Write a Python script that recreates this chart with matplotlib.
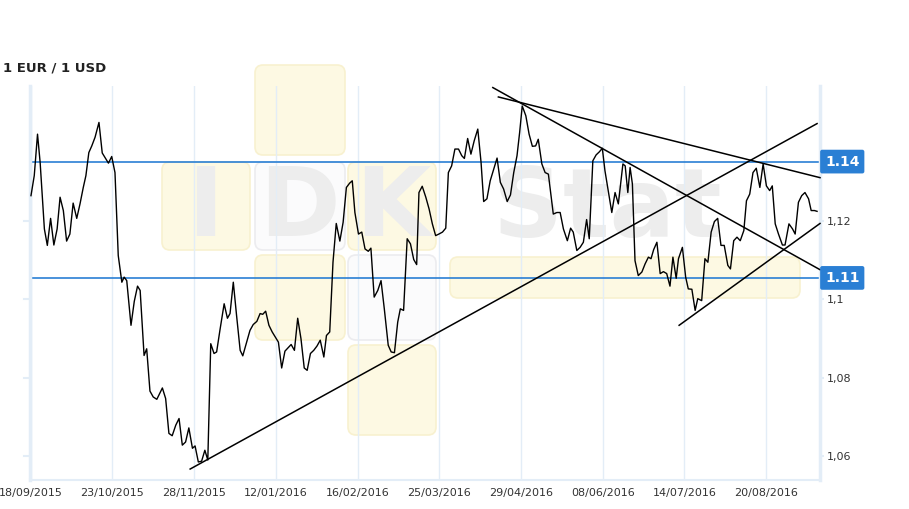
import numpy as np
import matplotlib
matplotlib.use('Agg')
import matplotlib.pyplot as plt
from matplotlib.patches import FancyBboxPatch
from matplotlib.transforms import blended_transform_factory

# trading-day index (0 = 18/09/2015) and EUR/USD rate
DAYS = [0.1, 1.1, 2.1, 2.9, 3.6, 4.2, 5.1, 6.1, 7.1, 8.1, 9.0, 10.0, 11.0, 12.0, 13.0, 14.1,
        15.1, 16.1, 16.9, 17.8, 18.7, 19.7, 20.9, 21.9, 22.7, 23.8, 24.8, 25.8, 26.8, 27.9,
        28.6, 29.4, 30.7, 31.7, 32.7, 33.5, 34.7, 35.5, 36.5, 37.5, 38.6, 40.3, 41.3, 42.3,
        43.3, 44.4, 45.4, 46.4, 47.4, 48.4, 49.5, 50.3, 51.3, 52.3, 53.3, 54.2, 55.1, 56.1,
        56.9, 57.9, 59.2, 60.2, 61.0, 62.0, 63.0, 64.1, 64.9, 66.1, 67.1, 68.1, 69.2, 70.2,
        71.0, 71.9, 72.9, 73.9, 75.0, 75.8, 76.8, 77.8, 79.7, 80.7, 81.7, 82.7, 83.7, 84.6,
        85.6, 86.6, 87.6, 88.6, 89.7, 90.5, 91.5, 92.5, 93.5, 94.6, 95.6, 96.6, 97.6, 98.4,
        99.2, 100.3, 101.3, 102.3, 103.3, 104.1, 105.1, 106.2, 107.2, 108.2, 109.4, 110.3,
        111.3, 112.3, 113.1, 114.1, 115.2, 116.2, 117.2, 118.1, 118.8, 119.8, 120.9, 121.9,
        122.9, 123.9, 124.9, 126.0, 127.0, 127.8, 128.8, 129.8, 130.9, 131.9, 132.7, 133.7,
        134.7, 135.7, 136.8, 137.8, 138.6, 139.6, 140.6, 141.7, 142.7, 143.7, 144.7, 145.8,
        146.8, 147.8, 148.8, 149.6, 150.4, 151.5, 152.5, 153.5, 154.5, 155.3, 156.4, 157.4,
        158.4, 159.2, 159.9, 161.0, 162.0, 163.0, 164.2, 165.2, 166.0, 167.1, 168.1, 169.1,
        170.1, 170.9, 172.0, 173.0, 174.0, 174.9, 175.7, 176.8, 177.8, 178.8, 179.8, 180.6,
        181.2, 181.9, 182.7, 183.4, 184.1, 184.9, 185.9, 187.0, 188.0, 189.0, 189.8, 190.6,
        191.6, 192.6, 193.6, 194.6, 195.6, 196.5, 197.5, 198.2, 199.4, 200.4, 201.2, 202.3,
        203.3, 204.1, 205.3, 206.3, 207.2, 208.2, 209.2, 210.2, 211.2, 212.2, 213.3, 214.1,
        215.1, 216.1, 217.1, 218.2, 219.0, 220.0, 221.0, 222.0, 223.1, 224.1, 225.1, 226.1,
        226.9, 227.8, 228.8, 230.0, 230.8, 232.0, 233.1, 233.9, 234.9, 235.9, 236.9, 238.0,
        238.8, 239.8, 240.6]
RATES = [1.1265, 1.1316, 1.1422, 1.1350, 1.1257, 1.1180, 1.1138, 1.1207, 1.1139, 1.1180,
         1.1261, 1.1227, 1.1149, 1.1167, 1.1246, 1.1207, 1.1244, 1.1286, 1.1316, 1.1375,
         1.1392, 1.1414, 1.1452, 1.1374, 1.1363, 1.1348, 1.1365, 1.1324, 1.1112, 1.1044,
         1.1057, 1.1048, 1.0934, 1.0995, 1.1034, 1.1023, 1.0857, 1.0874, 1.0766, 1.0751,
         1.0745, 1.0774, 1.0747, 1.0658, 1.0652, 1.0679, 1.0696, 1.0628, 1.0636, 1.0672,
         1.0620, 1.0626, 1.0585, 1.0587, 1.0615, 1.0590, 1.0887, 1.0862, 1.0866, 1.0921,
         1.0989, 1.0952, 1.0964, 1.1044, 1.0959, 1.0870, 1.0856, 1.0891, 1.0921, 1.0936,
         1.0944, 1.0964, 1.0962, 1.0970, 1.0934, 1.0917, 1.0902, 1.0891, 1.0825, 1.0868,
         1.0885, 1.0870, 1.0952, 1.0900, 1.0825, 1.0819, 1.0862, 1.0870, 1.0881, 1.0896,
         1.0853, 1.0908, 1.0917, 1.1095, 1.1194, 1.1149, 1.1197, 1.1286, 1.1297, 1.1303,
         1.1222, 1.1167, 1.1172, 1.1129, 1.1123, 1.1131, 1.1006, 1.1023, 1.1048, 1.0976,
         1.0883, 1.0866, 1.0864, 1.0942, 1.0976, 1.0972, 1.1155, 1.1142, 1.1102, 1.1089,
         1.1273, 1.1289, 1.1261, 1.1231, 1.1193, 1.1163, 1.1167, 1.1172, 1.1182, 1.1324,
         1.1341, 1.1384, 1.1384, 1.1367, 1.1360, 1.1411, 1.1371, 1.1405, 1.1435, 1.1350,
         1.1250, 1.1257, 1.1303, 1.1333, 1.1361, 1.1299, 1.1282, 1.1250, 1.1267, 1.1324,
         1.1367, 1.1426, 1.1494, 1.1469, 1.1422, 1.1391, 1.1392, 1.1409, 1.1346, 1.1324,
         1.1320, 1.1265, 1.1218, 1.1222, 1.1222, 1.1180, 1.1150, 1.1182, 1.1172, 1.1125,
         1.1133, 1.1146, 1.1204, 1.1155, 1.1354, 1.1369, 1.1377, 1.1386, 1.1329, 1.1273,
         1.1222, 1.1273, 1.1244, 1.1303, 1.1346, 1.1341, 1.1273, 1.1337, 1.1295, 1.1099,
         1.1061, 1.1070, 1.1091, 1.1108, 1.1104, 1.1127, 1.1146, 1.1066, 1.1071, 1.1066,
         1.1034, 1.1108, 1.1054, 1.1104, 1.1133, 1.1057, 1.1027, 1.1026, 1.0972, 1.1002,
         1.0997, 1.1104, 1.1095, 1.1172, 1.1199, 1.1207, 1.1138, 1.1138, 1.1087, 1.1078,
         1.1150, 1.1159, 1.1150, 1.1176, 1.1252, 1.1269, 1.1324, 1.1335, 1.1286, 1.1346,
         1.1290, 1.1278, 1.1290, 1.1193, 1.1167, 1.1139, 1.1139, 1.1193, 1.1180, 1.1167,
         1.1248, 1.1265, 1.1273, 1.1257, 1.1227, 1.1227, 1.1225]

X_TICKS = [0, 25, 50, 75, 100, 125, 150, 175, 200, 225]
X_LABELS = ['18/09/2015', '23/10/2015', '28/11/2015', '12/01/2016', '16/02/2016',
            '25/03/2016', '29/04/2016', '08/06/2016', '14/07/2016', '20/08/2016']
Y_TICKS = [1.06, 1.08, 1.10, 1.12]
Y_LABELS = ['1,06', '1,08', '1,1', '1,12']

# horizontal levels (value, label)
LEVELS = [1.1352, 1.1055]
LEVEL_LABELS = ['1.14', '1.11']

# trend lines: (start day, start rate, end day, end rate)
TRENDS = [
    (48.8, 1.0567, 240.6, 1.1449),
    (141.4, 1.1541, 241.5, 1.1076),
    (143.1, 1.1517, 241.5, 1.1311),
    (198.4, 1.0934, 241.5, 1.1194),
]

GRID = '#e3edf7'
BLUE = '#2a7fd4'

fig = plt.figure(figsize=(9.09, 5.09), dpi=100)

# watermark in the background
wm = fig.add_axes([0, 0, 1, 1], zorder=0)
wm.set_xlim(0, 909)
wm.set_ylim(509, 0)
wm.axis('off')
yellow_boxes = [(255, 65, 90, 90), (162, 162, 88, 88), (348, 162, 88, 88),
                (255, 255, 90, 85), (348, 345, 88, 90), (450, 257, 350, 41)]
for bx, by, bw, bh in yellow_boxes:
    wm.add_patch(FancyBboxPatch((bx + 8, by + 8), bw - 16, bh - 16,
                                boxstyle='round,pad=8', fc='#fdf9e3', ec='#f8f1cf', lw=1.2))
for bx, by, bw, bh in [(255, 162, 90, 88), (348, 255, 88, 85)]:
    wm.add_patch(FancyBboxPatch((bx + 8, by + 8), bw - 16, bh - 16,
                                boxstyle='round,pad=8', fc='#fbfbfc', ec='#ececef', lw=1.2))
for tx, t in [(205, 'I'), (300, 'D'), (393, 'K'), (607, 'Stat')]:
    wm.text(tx, 210, t, ha='center', va='center', fontsize=70, fontweight='bold',
            color='#ededed', family='DejaVu Sans')

ax = fig.add_axes([30 / 909, 29 / 509, 790 / 909, 394 / 509], zorder=1)
ax.patch.set_alpha(0)

ax.plot(DAYS, RATES, color='black', lw=1.0, zorder=3)
for x0, y0, x1, y1 in TRENDS:
    ax.plot([x0, x1], [y0, y1], color='black', lw=1.1, zorder=3, clip_on=False)
for lv in LEVELS:
    ax.axhline(lv, color=BLUE, lw=1.2, zorder=2)

ax.set_xlim(-0.2, 241.5)
ax.set_ylim(1.0539, 1.1545)

ax.set_xticks(X_TICKS)
ax.set_xticklabels(X_LABELS, fontsize=8, color='#333333')
ax.xaxis.grid(True, color=GRID, lw=1.0)
ax.tick_params(axis='x', length=0, pad=6)

ax.set_yticks(Y_TICKS)
ax.set_yticklabels(Y_LABELS, fontsize=8, color='#333333')
ax.yaxis.tick_right()
ax.tick_params(axis='y', length=3, color=GRID, width=1.5, pad=2)
trans = blended_transform_factory(ax.transAxes, ax.transData)
for yt in Y_TICKS:
    ax.plot([-0.008, -0.002], [yt, yt], transform=trans, color=GRID, lw=1.5, clip_on=False)

ax.spines['top'].set_visible(False)
ax.spines['left'].set_color(GRID)
ax.spines['left'].set_linewidth(2.5)
ax.spines['right'].set_color(GRID)
ax.spines['right'].set_linewidth(2.5)
ax.spines['bottom'].set_color(GRID)
ax.spines['bottom'].set_linewidth(1.5)

for lv, lab in zip(LEVELS, LEVEL_LABELS):
    ax.text(1.0 + 5 / 790, lv, lab, transform=trans, ha='left', va='center',
            fontsize=10, fontweight='bold', color='white',
            bbox=dict(boxstyle='round,pad=0.35,rounding_size=0.15', fc=BLUE, ec='none'))

fig.text(3 / 909, 1 - 68 / 509, '1 EUR / 1 USD', fontsize=9.5, fontweight='bold',
         color='#222222', va='center', ha='left')

fig.savefig('out.png', dpi=100)
